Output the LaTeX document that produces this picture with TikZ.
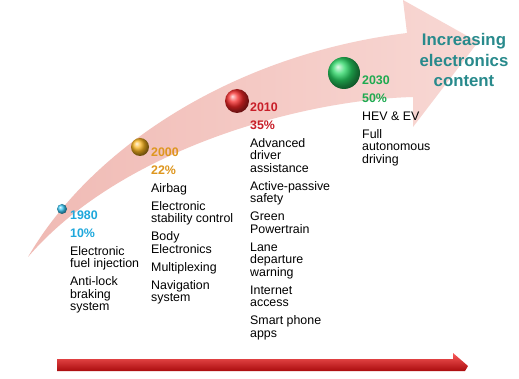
\documentclass[tikz,border=0pt]{standalone}
\usepackage{fontspec}
\setmainfont{Liberation Sans}
\definecolor{c1980}{RGB}{30,168,220}
\definecolor{c2000}{RGB}{222,150,30}
\definecolor{c2010}{RGB}{200,30,40}
\definecolor{c2030}{RGB}{30,170,80}
\definecolor{o1980}{RGB}{60,200,245}
\definecolor{o2000}{RGB}{250,180,30}
\definecolor{o2010}{RGB}{245,40,40}
\definecolor{o2030}{RGB}{40,215,100}
\definecolor{titlec}{RGB}{40,138,140}
\definecolor{bandA}{RGB}{240,186,180}
\definecolor{bandB}{RGB}{248,216,212}
\definecolor{redtop}{RGB}{250,90,90}
\definecolor{redmid}{RGB}{238,35,38}
\definecolor{redbot}{RGB}{170,12,14}
\begin{document}
\begin{tikzpicture}[x=1pt,y=-1pt,
  col/.style={anchor=north west, inner sep=0pt, align=left, font=\fontsize{12.4}{12.5}\selectfont},
  orb/.style={circle, inner sep=0pt, minimum size=#1},
  ttl/.style={font=\bfseries\fontsize{16.8}{20.5}\selectfont, text=titlec, align=center, inner sep=0pt}]
\useasboundingbox (0,0) rectangle (519,379);
\fill[white] (0,0) rectangle (519,379);
% curved band arrow
\shade[left color=bandA, right color=bandB]
  (28,257) .. controls (90,150) and (230,55) .. (407,33)
  -- (403,0) -- (478,42) -- (413,127) -- (413,97)
  .. controls (300,100) and (120,150) .. (28,257) -- cycle;
% balls
\node[orb=10pt, ball color=o1980] (b1980) at (62,209) {};
\node[orb=18pt, ball color=o2000] (b2000) at (140,147) {};
\node[orb=24pt, ball color=o2010] (b2010) at (237,101) {};
\node[orb=32pt, ball color=o2030] (b2030) at (344,73) {};
% columns
\node[col] (t1980) at (70,210.5) {\textbf{\color{c1980}1980}\\[5.5pt]\textbf{\color{c1980}10\%}\\[5.5pt]Electronic\\fuel injection\\[5.5pt]Anti-lock\\braking\\system};
\node[col] (t2000) at (151,147.5) {\textbf{\color{c2000}2000}\\[5.5pt]\textbf{\color{c2000}22\%}\\[5.5pt]Airbag\\[5.5pt]Electronic\\stability control\\[5.5pt]Body\\Electronics\\[5.5pt]Multiplexing\\[5.5pt]Navigation\\system};
\node[col] (t2010) at (250,102.5) {\textbf{\color{c2010}2010}\\[5.5pt]\textbf{\color{c2010}35\%}\\[5.5pt]Advanced\\driver\\assistance\\[5.5pt]Active-passive\\safety\\[5.5pt]Green\\Powertrain\\[5.5pt]Lane\\departure\\warning\\[5.5pt]Internet\\access\\[5.5pt]Smart phone\\apps};
\node[col] (t2030) at (362,75.5) {\textbf{\color{c2030}2030}\\[5.5pt]\textbf{\color{c2030}50\%}\\[5.5pt]HEV \& EV\\[5.5pt]Full\\autonomous\\driving};
% title
\node[ttl] (title) at (464,60) {Increasing\\electronics\\content};
% bottom arrow
\shade[top color=redtop, middle color=redmid, bottom color=redbot]
  (57,359) -- (453,359) -- (453,353) -- (468,366) -- (465,371) -- (57,371) -- cycle;
\end{tikzpicture}
\end{document}
